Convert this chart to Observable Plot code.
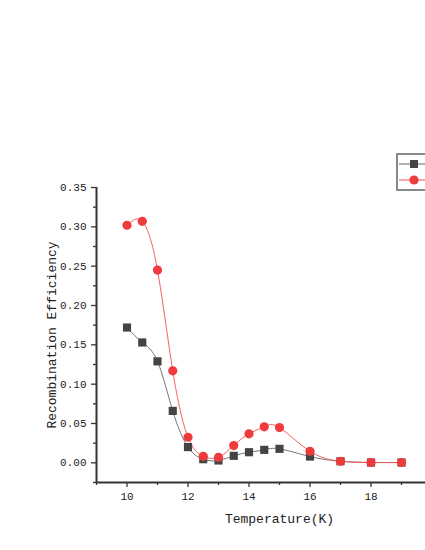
<!DOCTYPE html>
<html>
<head>
<meta charset="utf-8">
<script src="https://cdn.jsdelivr.net/npm/d3@7"></script>
<script src="https://cdn.jsdelivr.net/npm/@observablehq/plot@0.6"></script>
<style>
html, body { margin: 0; padding: 0; overflow: hidden; background: #fff; width: 425px; height: 550px; }
#chart { position: relative; width: 480px; }
#chart svg { max-width: none !important; }
</style>
</head>
<body>
<div id="chart"></div>
<script>
const temps = [10, 10.5, 11, 11.5, 12, 12.5, 13, 13.5, 14, 14.5, 15, 16, 17, 18, 19];
const seriesA = [0.172, 0.153, 0.129, 0.066, 0.020, 0.0046, 0.003, 0.0089, 0.0135, 0.0165, 0.0178, 0.008, 0.002, 0.0004, 0.0004];
const seriesB = [0.302, 0.307, 0.245, 0.117, 0.0325, 0.0084, 0.0071, 0.022, 0.0369, 0.0458, 0.0449, 0.0147, 0.002, 0.0004, 0.0004];
const seriesNames = ["A", "B"];
const yMajor = [0, 0.05, 0.10, 0.15, 0.20, 0.25, 0.30, 0.35];
const yMinor = [-0.025, 0.025, 0.075, 0.125, 0.175, 0.225, 0.275, 0.325];
const xMajor = [10, 12, 14, 16, 18];
const xMinor = [9, 11, 13, 15, 17, 19];

const dataA = temps.map((t, i) => ({x: t, y: seriesA[i], s: seriesNames[0]}));
const dataB = temps.map((t, i) => ({x: t, y: seriesB[i], s: seriesNames[1]}));

const grayLine = "#666";
const grayDot = "#444";
const redLine = "#f35050";
const redDot = "#ef3a3e";
const font = "'Liberation Mono', 'DejaVu Sans Mono', monospace";

const plot = Plot.plot({
  width: 480,
  height: 550,
  marginLeft: 96,
  marginTop: 187,
  marginBottom: 68,
  marginRight: 18,
  style: {fontFamily: font, fontSize: "11px", color: "#222", background: "transparent", maxWidth: "none"},
  x: {domain: [9, 21]},
  y: {domain: [-0.025, 0.35]},
  marks: [
    Plot.axisY({ticks: yMajor, tickFormat: d => d.toFixed(2), tickSize: 5, tickPadding: 5,
      label: "Recombination Efficiency", labelAnchor: "center", labelOffset: 50, labelArrow: "none",
      fontSize: 11, stroke: "#333", strokeWidth: 1.3}),
    Plot.axisY({ticks: yMinor, tickFormat: () => "", tickSize: 3, label: null, stroke: "#333", strokeWidth: 1.3}),
    Plot.axisX({ticks: xMajor, tickFormat: d => String(d), tickSize: 5, tickPadding: 5,
      label: "Temperature(K)", labelAnchor: "center", labelOffset: 40, labelArrow: "none",
      fontSize: 11, stroke: "#333", strokeWidth: 1.3}),
    Plot.axisX({ticks: xMinor, tickFormat: () => "", tickSize: 3, label: null, stroke: "#333", strokeWidth: 1.3}),
    Plot.ruleX([9], {stroke: "#333", strokeWidth: 2}),
    Plot.ruleY([-0.025], {stroke: "#333", strokeWidth: 2}),
    Plot.line(dataA, {x: "x", y: "y", curve: "natural", stroke: grayLine, strokeWidth: 0.9}),
    Plot.line(dataB, {x: "x", y: "y", curve: "natural", stroke: redLine, strokeWidth: 0.9}),
    Plot.dot(dataA, {x: "x", y: "y", symbol: "square", r: 4.6, fill: grayDot, stroke: "none"}),
    Plot.dot(dataB, {x: "x", y: "y", symbol: "circle", r: 4.6, fill: redDot, stroke: "none"})
  ]
});
plot.style.maxWidth = "none";

// axis label fonts
d3.select(plot).selectAll("[aria-label='y-axis label'] text, [aria-label='x-axis label'] text")
  .style("font-size", "13px");

// legend (partially outside the window, as in the reference)
const svg = d3.select(plot);
const lg = svg.append("g").attr("aria-label", "legend");
lg.append("rect").attr("x", 397).attr("y", 154).attr("width", 70).attr("height", 36)
  .attr("fill", "#fff").attr("stroke", "#888").attr("stroke-width", 2);
lg.append("line").attr("x1", 399).attr("x2", 430).attr("y1", 164).attr("y2", 164)
  .attr("stroke", "#999").attr("stroke-width", 1.5);
lg.append("rect").attr("x", 410).attr("y", 160).attr("width", 8).attr("height", 8).attr("fill", grayDot);
lg.append("line").attr("x1", 399).attr("x2", 430).attr("y1", 180).attr("y2", 180)
  .attr("stroke", redLine).attr("stroke-width", 1);
lg.append("circle").attr("cx", 414).attr("cy", 180).attr("r", 4.6).attr("fill", redDot);

document.getElementById("chart").appendChild(plot);
</script>
</body>
</html>
